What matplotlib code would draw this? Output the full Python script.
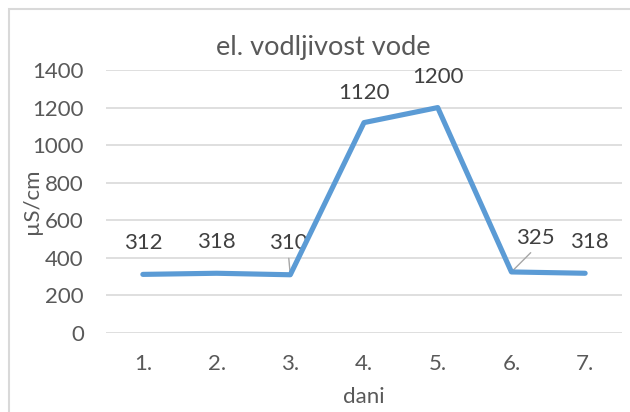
import matplotlib
matplotlib.use("Agg")
import matplotlib.pyplot as plt
from matplotlib.patches import Rectangle

# podaci
dani = ["1.", "2.", "3.", "4.", "5.", "6.", "7."]
vodljivost = [312, 318, 310, 1120, 1200, 325, 318]
y_ticks = [0, 200, 400, 600, 800, 1000, 1200, 1400]

# pomaci oznaka (px) i koje imaju vodilicu
label_dx = [0, 0, -2, 0, 0, 24, 4]
label_dy = [31, 31, 32, 30, 31, 34, 31]
leader = [False, False, True, False, False, True, False]

text_col = "#595959"
grid_col = "#D9D9D9"
line_col = "#5B9BD5"
plt.rcParams["font.family"] = ["Lato", "DejaVu Sans"]

W, H = 630, 412
fig = plt.figure(figsize=(W / 100, H / 100), dpi=100)
ax = fig.add_axes([106 / W, 1 - 333 / H, (622 - 106) / W, (333 - 70) / H])

x = range(len(dani))
ax.plot(x, vodljivost, color=line_col, lw=3.7, solid_capstyle="round",
        solid_joinstyle="round", zorder=3)

ax.set_xlim(-0.5, len(dani) - 0.5)
ax.set_ylim(0, 1400)
ax.set_yticks(y_ticks)
ax.set_xticks(list(x))
ax.set_xticklabels(dani)
ax.grid(axis="y", color=grid_col, lw=1.2)
ax.set_axisbelow(True)
for s in ax.spines.values():
    s.set_visible(False)
ax.tick_params(length=0, labelsize=16, labelcolor=text_col)
ax.tick_params(axis="y", pad=16)
ax.tick_params(axis="x", pad=15)

px = 72 / 100
for i, v in enumerate(vodljivost):
    ap = None
    if leader[i]:
        ap = dict(arrowstyle="-", color="#A6A6A6", lw=1.0, shrinkA=2, shrinkB=1,
                  relpos=(0.5, 0.0))
    ax.annotate(str(v), (i, v), xytext=(label_dx[i] * px, label_dy[i] * px),
                textcoords="offset points", ha="center", va="center",
                fontsize=16, color="#404040", arrowprops=ap, zorder=2)

fig.text(323 / W, 1 - 47 / H, "el. vodljivost vode", ha="center", va="center",
         fontsize=19.5, color=text_col)
fig.text(32 / W, 1 - 201 / H, "µS/cm", ha="center", va="center", rotation=90,
         fontsize=16, color=text_col)
fig.text(364 / W, 1 - 397 / H, "dani", ha="center", va="center",
         fontsize=16, color=text_col)

# okvir grafikona
fig.patches.append(Rectangle((8.5 / W, -0.1), 1.2, 1 - 8.5 / H + 0.1,
                             transform=fig.transFigure, fill=False,
                             edgecolor=grid_col, lw=1.5))

fig.savefig("out.png", dpi=100, facecolor="white")
